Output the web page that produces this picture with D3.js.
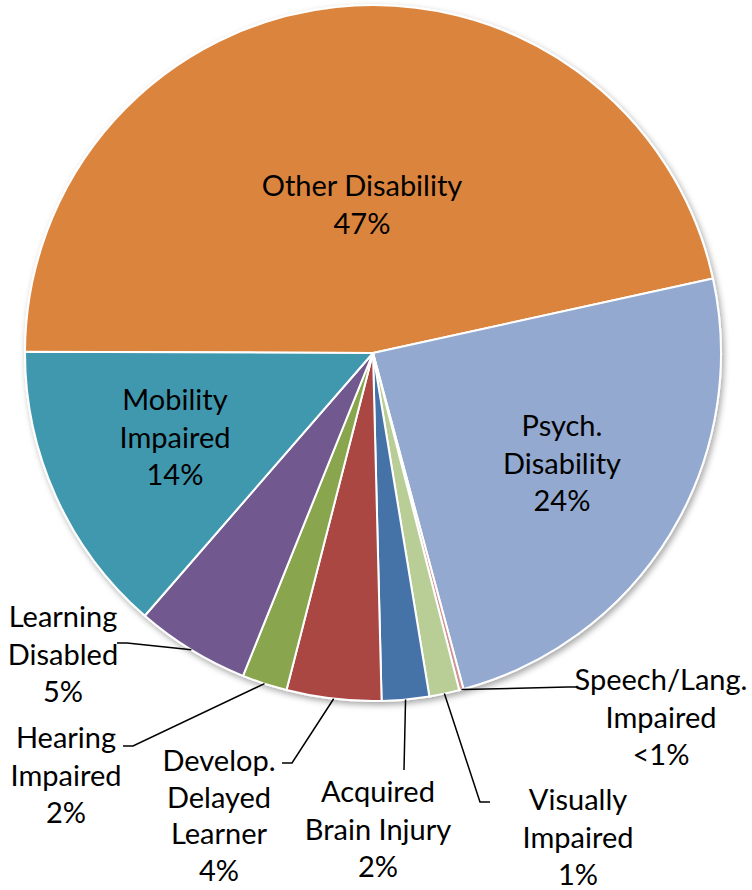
<!DOCTYPE html>
<html>
<head>
<meta charset="utf-8">
<script src="https://cdn.jsdelivr.net/npm/d3@7"></script>
<style>
  body { margin: 0; background: #fff; }
  text { font-family: Lato, "Open Sans", sans-serif; font-size: 29px; fill: #000; }
</style>
</head>
<body>
<div id="chart"></div>
<script>
// categories, in drawing order (clockwise from 9 o'clock)
var categories = ["Other Disability", "Psych. Disability", "Speech/Lang. Impaired", "Visually Impaired",
                  "Acquired Brain Injury", "Develop. Delayed Learner", "Hearing Impaired",
                  "Learning Disabled", "Mobility Impaired"];
// share of students, percent
var values = [46.6, 24.3, 0.2, 1.4, 2.2, 4.4, 2.1, 5.3, 13.7];
// labels as printed
var pctLabels = ["47%", "24%", "<1%", "1%", "2%", "4%", "2%", "5%", "14%"];
var labelLines = [["Other Disability"], ["Psych.", "Disability"], ["Speech/Lang.", "Impaired"], ["Visually", "Impaired"],
                  ["Acquired", "Brain Injury"], ["Develop.", "Delayed", "Learner"], ["Hearing", "Impaired"],
                  ["Learning", "Disabled"], ["Mobility", "Impaired"]];
var colors = ["#DB843D", "#93A9CF", "#D19392", "#B9CD96", "#4572A7", "#AA4643", "#89A54E", "#71588F", "#4198AF"];

var width = 752, height = 890;
var cx = 373, cy = 353, radius = 348;
var lineH = 37.5;

// label layout: x/y = centre of first line; leader = elbow point (or null for inside labels)
var layout = [
  {x: 362, y: 186, leader: null},
  {x: 562, y: 426, leader: null},
  {x: 661, y: 680, leader: [568, 687], side: "left"},
  {x: 578, y: 800, leader: [480, 802], side: "left"},
  {x: 378, y: 792, leader: [404, 770], side: "none"},
  {x: 219, y: 761, leader: [292, 763], side: "right", lh: 36.5},
  {x: 66,  y: 738, leader: [133, 746], side: "right"},
  {x: 63,  y: 617, leader: [127, 643], side: "right"},
  {x: 175, y: 400, leader: null}
];

var svg = d3.select("#chart").append("svg")
    .attr("width", width)
    .attr("height", height);

var defs = svg.append("defs");
var f = defs.append("filter").attr("id", "shadow")
    .attr("x", "-10%").attr("y", "-10%").attr("width", "120%").attr("height", "120%");
f.append("feDropShadow").attr("dx", 2).attr("dy", 3).attr("stdDeviation", 3)
    .attr("flood-color", "#000").attr("flood-opacity", 0.35);

var g = svg.append("g")
    .attr("transform", "translate(" + cx + "," + cy + ")");

var start = 270.2 * Math.PI / 180;
var pie = d3.pie().sort(null)
    .startAngle(start)
    .endAngle(start + 2 * Math.PI)
    .value(function(d) { return d; });

var arcs = pie(values);

var arc = d3.arc().innerRadius(0).outerRadius(radius);
var edge = d3.arc().innerRadius(radius).outerRadius(radius);

g.append("g").attr("filter", "url(#shadow)")
  .selectAll("path")
  .data(arcs)
  .enter().append("path")
    .attr("d", arc)
    .attr("fill", function(d, i) { return colors[i]; })
    .attr("stroke", "#fff")
    .attr("stroke-width", 2)
    .attr("stroke-linejoin", "round");

// leader lines
arcs.forEach(function(d, i) {
  var L = layout[i];
  if (!L.leader) return;
  var p0 = edge.centroid(d);
  var p = [[p0[0] + cx, p0[1] + cy], L.leader];
  if (L.side === "left") p.push([L.leader[0] + 10, L.leader[1]]);
  if (L.side === "right") p.push([L.leader[0] - 10, L.leader[1]]);
  svg.append("path")
    .attr("d", d3.line()(p))
    .attr("fill", "none")
    .attr("stroke", "#000")
    .attr("stroke-width", 1.5);
});

// labels
categories.forEach(function(c, i) {
  var L = layout[i];
  var lh = L.lh || lineH;
  var lines = labelLines[i].concat([pctLabels[i]]);
  var t = svg.append("text")
    .attr("text-anchor", "middle")
    .attr("x", L.x)
    .attr("y", L.y);
  lines.forEach(function(s, j) {
    t.append("tspan")
      .attr("x", L.x)
      .attr("y", L.y + j * lh)
      .attr("dy", "0.35em")
      .text(s);
  });
});
</script>
</body>
</html>
